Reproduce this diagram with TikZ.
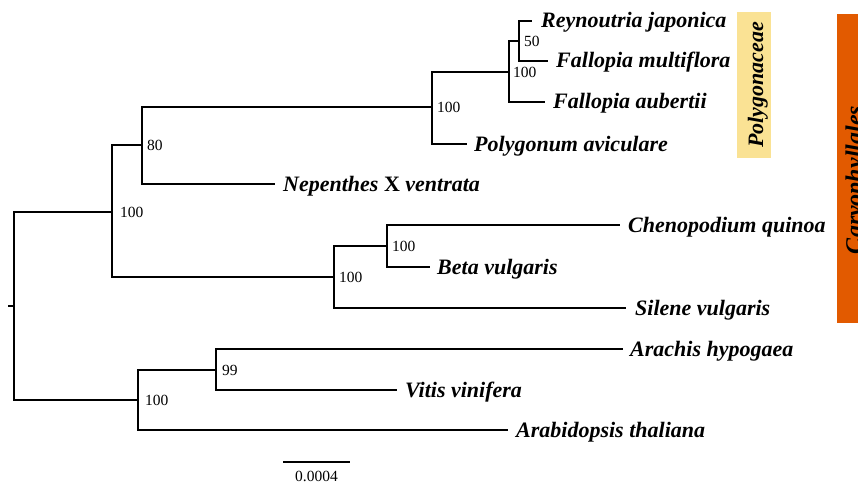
\documentclass[tikz,border=0pt]{standalone}
\usepackage{fontspec}
\setmainfont{Liberation Serif}
\definecolor{polyyellow}{RGB}{250,226,148}
\definecolor{caryorange}{RGB}{226,90,0}
\begin{document}
\begin{tikzpicture}[x=1pt,y=-1pt,
  branch/.style={line width=1.8pt},
  taxon/.style={anchor=base west, inner sep=0pt, font=\fontsize{22}{26}\selectfont\bfseries\itshape},
  boot/.style={anchor=west, inner sep=0pt, font=\fontsize{15.5}{18}\selectfont},
  cladetext/.style={rotate=90, anchor=base, inner sep=0pt, font=\fontsize{22}{26}\selectfont\bfseries\itshape}
]
\useasboundingbox (0,0) rectangle (858,484);
\fill[white] (0,0) rectangle (858,484);

% internal nodes
\coordinate (root) at (14,306);
\coordinate (rtick) at (8,306);
\coordinate (nA) at (112,212);
\coordinate (nB) at (142,145);
\coordinate (nC) at (432,107);
\coordinate (nD) at (509,72);
\coordinate (nE) at (519,41);
\coordinate (nG) at (334,277);
\coordinate (nH) at (387,246);
\coordinate (nI) at (138,400);
\coordinate (nJ) at (216,370);

% leaf ends
\coordinate (lRJ) at (532,21);
\coordinate (lFM) at (548,61);
\coordinate (lFA) at (545,102);
\coordinate (lPA) at (467,144);
\coordinate (lNV) at (275,184);
\coordinate (lCQ) at (620,225);
\coordinate (lBV) at (430,267);
\coordinate (lSV) at (626,308);
\coordinate (lAH) at (623,349);
\coordinate (lVV) at (397,390);
\coordinate (lAT) at (508,430);

% branches
\draw[branch] (rtick) -- (root);
\draw[branch] (root) |- (nA);
\draw[branch] (root) |- (nI);
\draw[branch] (nA) |- (nB);
\draw[branch] (nA) |- (nG);
\draw[branch] (nB) |- (nC);
\draw[branch] (nB) |- (lNV);
\draw[branch] (nC) |- (nD);
\draw[branch] (nC) |- (lPA);
\draw[branch] (nD) |- (nE);
\draw[branch] (nD) |- (lFA);
\draw[branch] (nE) |- (lRJ);
\draw[branch] (nE) |- (lFM);
\draw[branch] (nG) |- (nH);
\draw[branch] (nG) |- (lSV);
\draw[branch] (nH) |- (lCQ);
\draw[branch] (nH) |- (lBV);
\draw[branch] (nI) |- (nJ);
\draw[branch] (nI) |- (lAT);
\draw[branch] (nJ) |- (lAH);
\draw[branch] (nJ) |- (lVV);

% taxon labels
\node[taxon] (tRJ) at ([xshift=9pt,yshift=-7pt]lRJ) {Reynoutria japonica};
\node[taxon] (tFM) at ([xshift=8pt,yshift=-7pt]lFM) {Fallopia multiflora};
\node[taxon] (tFA) at ([xshift=8pt,yshift=-7pt]lFA) {Fallopia aubertii};
\node[taxon] (tPA) at ([xshift=7pt,yshift=-7pt]lPA) {Polygonum aviculare};
\node[taxon] (tNV) at ([xshift=8pt,yshift=-7pt]lNV) {Nepenthes {\upshape X} ventrata};
\node[taxon] (tCQ) at ([xshift=8pt,yshift=-7pt]lCQ) {Chenopodium quinoa};
\node[taxon] (tBV) at ([xshift=7pt,yshift=-7pt]lBV) {Beta vulgaris};
\node[taxon] (tSV) at ([xshift=9pt,yshift=-7pt]lSV) {Silene vulgaris};
\node[taxon] (tAH) at ([xshift=7pt,yshift=-7pt]lAH) {Arachis hypogaea};
\node[taxon] (tVV) at ([xshift=8pt,yshift=-7pt]lVV) {Vitis vinifera};
\node[taxon] (tAT) at ([xshift=8pt,yshift=-7pt]lAT) {Arabidopsis thaliana};

% bootstrap values
\node[boot] (bA) at ([xshift=8pt]nA) {100};
\node[boot] (bB) at ([xshift=5pt]nB) {80};
\node[boot] (bC) at ([xshift=5pt]nC) {100};
\node[boot] (bD) at ([xshift=4pt]nD) {100};
\node[boot] (bE) at ([xshift=5pt]nE) {50};
\node[boot] (bG) at ([xshift=5pt]nG) {100};
\node[boot] (bH) at ([xshift=5pt]nH) {100};
\node[boot] (bI) at ([xshift=7pt]nI) {100};
\node[boot] (bJ) at ([xshift=6pt]nJ) {99};

% scale bar
\coordinate (sbL) at (283,462);
\coordinate (sbR) at (350,462);
\draw[branch] (sbL) -- (sbR);
\node[anchor=base, inner sep=0pt, font=\fontsize{15.5}{18}\selectfont] (sbT) at (316.5,481) {0.0004};

% clade boxes
\fill[polyyellow] (737,12) rectangle (771,158);
\node[cladetext] (polyT) at (763,85) {Polygonaceae};
\fill[caryorange] (837,14) rectangle (870,323);
\node[cladetext, font=\fontsize{24}{28}\selectfont\bfseries\itshape] (caryT) at (862,180) {Caryophyllales};
\end{tikzpicture}
\end{document}
